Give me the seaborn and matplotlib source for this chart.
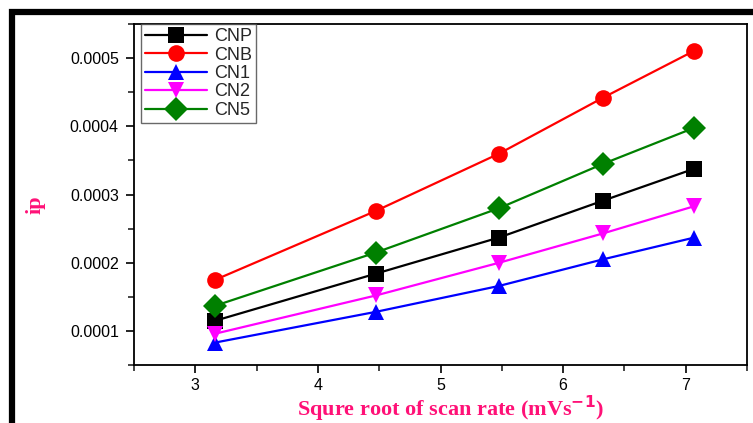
import numpy as np
import pandas as pd
import seaborn as sns
import matplotlib.pyplot as plt
from matplotlib.lines import Line2D

# square root of scan rate (10..50 mV/s)
sqrt_rate = [3.162, 4.472, 5.477, 6.325, 7.071]

cnp = [0.000115, 0.000184, 0.000237, 0.000291, 0.000338]
cnb = [0.000175, 0.000276, 0.000360, 0.000442, 0.000511]
cn1 = [0.000083, 0.000128, 0.000166, 0.000205, 0.000237]
cn2 = [0.000096, 0.000152, 0.000200, 0.000243, 0.000283]
cn5 = [0.000137, 0.000215, 0.000280, 0.000345, 0.000398]

names = ['CNP', 'CNB', 'CN1', 'CN2', 'CN5']
colors = {'CNP': 'black', 'CNB': 'red', 'CN1': 'blue', 'CN2': 'magenta', 'CN5': 'green'}
marks = {'CNP': 's', 'CNB': 'o', 'CN1': '^', 'CN2': 'v', 'CN5': 'D'}

rows = []
for n, vals in zip(names, [cnp, cnb, cn1, cn2, cn5]):
	for x, y in zip(sqrt_rate, vals):
		rows.append({'x': x, 'ip': y, 'sample': n})
df = pd.DataFrame(rows)

sns.set_style('ticks')
plt.rcParams['font.family'] = ['Liberation Sans', 'DejaVu Sans']

fig = plt.figure(figsize=(7.53, 4.23), dpi=100)
ax = fig.add_axes([0.178, 0.137, 0.814, 0.806])

sns.lineplot(data=df, x='x', y='ip', hue='sample', style='sample',
	palette=colors, markers=marks, dashes=False, markersize=12,
	linewidth=1.6, markeredgewidth=0, ax=ax, legend=False)

ax.set_xlim(2.5, 7.5)
ax.set_ylim(0.00005, 0.00055)
ax.set_xticks([3, 4, 5, 6, 7])
ax.set_xticks(np.arange(2.5, 7.6, 0.5), minor=True)
ax.set_yticks([0.0001, 0.0002, 0.0003, 0.0004, 0.0005])
ax.set_yticks(np.arange(0.00005, 0.00056, 0.00005), minor=True)
ax.set_yticklabels(['0.0001', '0.0002', '0.0003', '0.0004', '0.0005'])
ax.tick_params(axis='both', which='major', direction='out', length=6, width=1.2,
	labelsize=11.5, colors='black')
ax.tick_params(axis='y', which='major', pad=5)
ax.tick_params(axis='x', which='major', pad=3)
ax.tick_params(axis='both', which='minor', direction='out', length=4.5, width=1.2)
for s in ax.spines.values():
	s.set_linewidth(1.3)
	s.set_color('black')

pink = '#FF1177'
ax.set_xlabel('Squre root of scan rate (mVs$^{\\mathbf{-1}}$)', fontsize=16, fontweight='bold',
	color=pink, family='Liberation Serif')
ax.xaxis.set_label_coords(0.516, -0.085)
ax.set_ylabel('ip', fontsize=16, fontweight='bold', color=pink, family='Liberation Serif')
ax.yaxis.set_label_coords(-0.145, 0.47)

handles = [Line2D([], [], color=colors[n], marker=marks[n], markersize=12, markeredgewidth=0, linewidth=1.6)
	for n in names]
leg = ax.legend(handles, names, loc='upper left', bbox_to_anchor=(0.012, 1.0), fontsize=13,
	frameon=True, fancybox=False, edgecolor='#444444', borderpad=0.22, labelspacing=0.08,
	handlelength=3.4, handletextpad=0.4, borderaxespad=0)
leg.get_frame().set_linewidth(1.0)

# decorative black frame of the original picture
fig.add_artist(Line2D([12 / 753, 12 / 753, 1.0], [0.0, 1 - 12 / 423, 1 - 12 / 423],
	transform=fig.transFigure, color='black', linewidth=4.5, solid_joinstyle='miter'))

fig.savefig('out.png', dpi=100)
